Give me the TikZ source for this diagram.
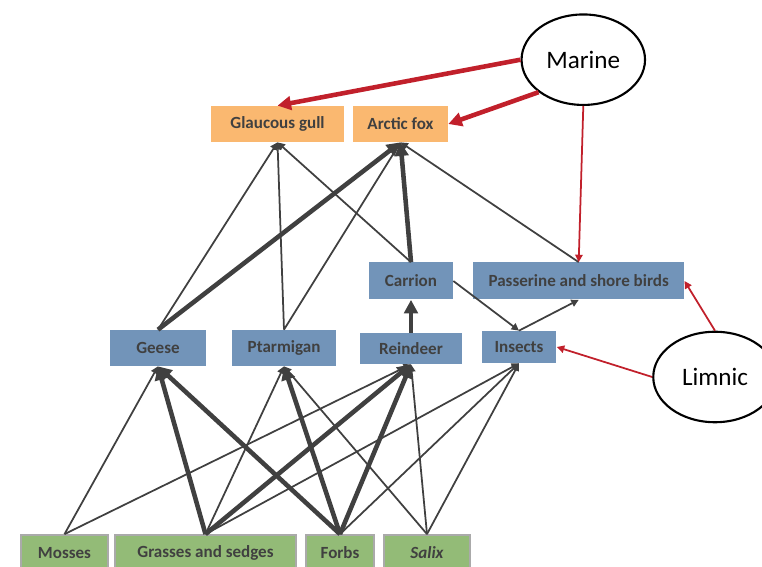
\documentclass[tikz,border=0pt]{standalone}
\usepackage{fontspec}
\setmainfont{Carlito}
\usepackage{tikz}
\usetikzlibrary{arrows.meta, shapes.geometric}
\definecolor{predorange}{RGB}{250,184,112}
\definecolor{herbblue}{RGB}{114,148,185}
\definecolor{plantgreen}{RGB}{147,187,119}
\definecolor{plantedge}{RGB}{170,170,170}
\definecolor{linkgrey}{RGB}{64,64,64}
\definecolor{inputred}{RGB}{193,32,43}

\begin{document}
\begin{tikzpicture}[x=0.02cm, y=-0.02cm, >={Triangle[length=2pt 2.2,width=2pt 2.2]},
        foodbox/.style={inner sep=0pt, text=linkgrey, font=\fontsize{9.7}{11}\selectfont\bfseries, minimum height=0.72cm},
        predbox/.style={foodbox, fill=predorange},
        herbbox/.style={foodbox, fill=herbblue},
        plantbox/.style={foodbox, fill=plantgreen, draw=plantedge, line width=1pt},
        source/.style={ellipse, draw, line width=1.2pt, minimum width=2.47cm, minimum height=1.81cm,
                inner sep=0pt, font=\fontsize{14.3}{16}\selectfont},
        feed/.style={->, linkgrey, line width=1pt},
        strongfeed/.style={feed, line width=2.6pt},
        subsidy/.style={->, inputred, line width=1pt},
        strongsubsidy/.style={subsidy, line width=2.6pt}]
        \useasboundingbox (0,0) rectangle (762,567);

        % predators
        \node[predbox, minimum width=2.66cm] (gull) at (277.5,124) {Glaucous gull};
        \node[predbox, minimum width=1.9cm] (fox) at (400.5,124) {Arctic fox};
        % consumers
        \node[herbbox, minimum width=1.68cm, minimum height=0.74cm] (carrion) at (411,281) {Carrion};
        \node[herbbox, minimum width=4.22cm, minimum height=0.74cm] (birds) at (578.7,281) {Passerine and shore birds};
        \node[herbbox, minimum width=1.92cm] (geese) at (158,348) {Geese};
        \node[herbbox, minimum width=2.08cm] (ptarmigan) at (284,348) {Ptarmigan};
        \node[herbbox, minimum width=2.04cm, minimum height=0.62cm] (reindeer) at (411,348.5) {Reindeer};
        \node[herbbox, minimum width=1.5cm, minimum height=0.64cm] (insects) at (519,347) {Insects};
        % plants
        \node[plantbox, minimum width=1.74cm] (mosses) at (64.5,553) {Mosses};
        \node[plantbox, minimum width=3.62cm] (grasses) at (205.5,553) {Grasses and sedges};
        \node[plantbox, minimum width=1.36cm] (forbs) at (340,553) {Forbs};
        \node[plantbox, minimum width=1.72cm] (salix) at (427,553) {\itshape Salix};
        % external inputs
        \node[source] (marine) at (583.3,59.7) {Marine};
        \node[source] (limnic) at (715,377) {Limnic};

        \draw[feed] (mosses.north) -- (geese.south);
        \draw[feed] (mosses.north) -- (reindeer.south);
        \draw[strongfeed] (grasses.north) -- (geese.south);
        \draw[feed] (grasses.north) -- (ptarmigan.south);
        \draw[strongfeed] (grasses.north) -- (reindeer.south);
        \draw[feed] (grasses.north) -- (insects.south);
        \draw[strongfeed] (forbs.north) -- (geese.south);
        \draw[strongfeed] (forbs.north) -- (ptarmigan.south);
        \draw[strongfeed] (forbs.north) -- (reindeer.south);
        \draw[feed] (forbs.north) -- (insects.south);
        \draw[feed] (salix.north) -- (ptarmigan.south);
        \draw[feed] (salix.north) -- (reindeer.south);
        \draw[feed] (salix.north) -- (insects.south);

        \draw[feed] (geese.north) -- (gull.south);
        \draw[strongfeed] (geese.north) -- (fox.south);
        \draw[feed] (ptarmigan.north) -- (gull.south);
        \draw[feed] (ptarmigan.north) -- (fox.south);
        \draw[strongfeed] (reindeer.north) -- (carrion.south);
        \draw[feed] (carrion.north) -- (gull.south);
        \draw[strongfeed] (carrion.north) -- (fox.south);
        \draw[feed] (carrion.east) -- (insects.north);
        \draw[feed] (insects.north) -- (birds.south);
        \draw[feed] (birds.north) -- (fox.south);

        \draw[strongsubsidy] (marine.west) -- (gull.north);
        \draw[strongsubsidy] (marine.216) -- (fox.east);
        \draw[subsidy] (marine.south) -- (birds.north);
        \draw[subsidy] (limnic.west) -- (insects.east);
        \draw[subsidy] (limnic.north) -- (birds.east);
      \end{tikzpicture}
\end{document}
